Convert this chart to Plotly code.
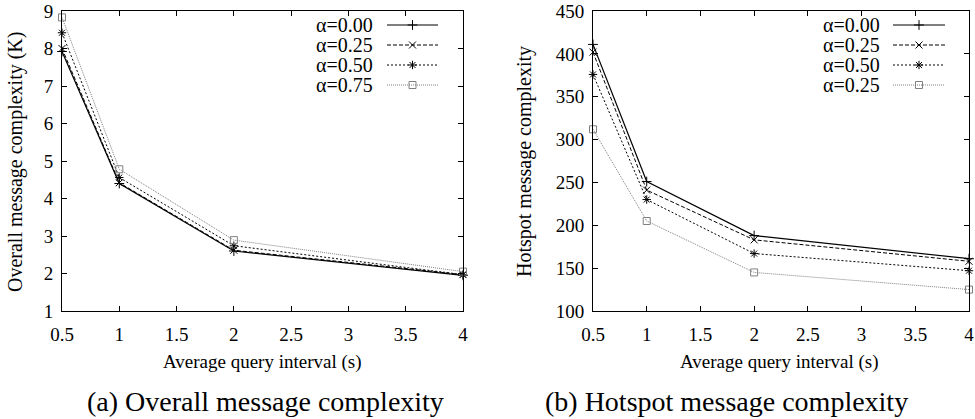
import plotly.graph_objects as go

x_vals = [0.5, 1, 2, 4]
labels_a = ["α=0.00", "α=0.25", "α=0.50", "α=0.75"]
labels_b = ["α=0.00", "α=0.25", "α=0.50", "α=0.25"]
overall = [
    [7.92, 4.40, 2.60, 1.95],
    [8.00, 4.42, 2.62, 1.97],
    [8.42, 4.56, 2.74, 1.97],
    [8.83, 4.78, 2.89, 2.05],
]
hotspot = [
    [411, 251, 188, 161],
    [402, 241, 183, 158],
    [376, 230, 167, 147],
    [312, 205, 145, 125],
]
x_ticks = [0.5, 1, 1.5, 2, 2.5, 3, 3.5, 4]
y_ticks_a = [1, 2, 3, 4, 5, 6, 7, 8, 9]
y_ticks_b = [100, 150, 200, 250, 300, 350, 400, 450]

styles = [
    dict(color="black", dash="solid", symbol="cross-thin-open", width=1.2),
    dict(color="black", dash="4px,2px", symbol="x-thin-open", width=1),
    dict(color="black", dash="2px,2px", symbol="asterisk-open", width=1),
    dict(color="#808080", dash="1px,1px", symbol="square-open", width=1),
]

FONT = "Liberation Serif"
fig = go.Figure()

W, H = 975, 419
dom_a = [62 / W, 463 / W]
dom_b = [593 / W, 969 / W]
dom_y = [1 - 311 / H, 1 - 11 / H]

for i, ys in enumerate(overall):
    s = styles[i]
    fig.add_trace(go.Scatter(x=x_vals, y=ys, mode="lines+markers", xaxis="x", yaxis="y",
                             line=dict(color=s["color"], dash=s["dash"], width=s["width"]),
                             marker=dict(symbol=s["symbol"], size=7, color=s["color"],
                                         line=dict(width=1, color=s["color"])),
                             showlegend=False, cliponaxis=False))
for i, ys in enumerate(hotspot):
    s = styles[i]
    fig.add_trace(go.Scatter(x=x_vals, y=ys, mode="lines+markers", xaxis="x2", yaxis="y2",
                             line=dict(color=s["color"], dash=s["dash"], width=s["width"]),
                             marker=dict(symbol=s["symbol"], size=7, color=s["color"],
                                         line=dict(width=1, color=s["color"])),
                             showlegend=False, cliponaxis=False))

# manual gnuplot-style legends (text left, sample right)
row_px = [25, 45, 65, 85]
annotations = []
for panel, (labels, xa, ya, dom) in enumerate([(labels_a, "x3", "y3", dom_a), (labels_b, "x4", "y4", dom_b)]):
    width_px = (dom[1] - dom[0]) * W
    if panel == 0:
        l0, l1, tx = 387 - 62, 438 - 62, 374 - 62
    else:
        l0, l1, tx = 893 - 593, 945 - 593, 881 - 593
    for i, lab in enumerate(labels):
        s = styles[i]
        yy = 1 - (row_px[i] - 11) / 300
        fig.add_trace(go.Scatter(x=[l0 / width_px, l1 / width_px],
                                 y=[yy, yy], mode="lines", xaxis=xa, yaxis=ya,
                                 line=dict(color=s["color"], dash=s["dash"], width=s["width"]),
                                 showlegend=False, hoverinfo="skip"))
        fig.add_trace(go.Scatter(x=[(l0 + l1) / 2 / width_px], y=[yy], mode="markers",
                                 xaxis=xa, yaxis=ya,
                                 marker=dict(symbol=s["symbol"], size=7, color=s["color"],
                                             line=dict(width=1, color=s["color"])),
                                 showlegend=False, hoverinfo="skip"))
        annotations.append(dict(x=tx / width_px, y=yy, xref=xa, yref=ya, text=lab,
                                showarrow=False, xanchor="right", yanchor="middle",
                                borderpad=0,
                                font=dict(family=FONT, size=20, color="black")))

# axis titles and captions
def note(x, y, text, size, angle=0):
    return dict(x=x / W, y=1 - y / H, xref="paper", yref="paper", text=text,
                showarrow=False, xanchor="center", yanchor="middle", textangle=angle,
                font=dict(family=FONT, size=size, color="black"))

annotations += [
    note(262, 362, "Average query interval (s)", 19),
    note(779, 362, "Average query interval (s)", 19),
    note(15, 162, "Overall message complexity (K)", 20, -90),
    note(524, 162, "Hotspot message complexity", 20, -90),
    note(265, 401, "(a) Overall message complexity", 28),
    note(726, 401, "(b) Hotspot message complexity", 28),
]

axis_common = dict(showgrid=False, zeroline=False, showline=True, linecolor="black",
                   linewidth=1, mirror="ticks", ticks="inside", ticklen=5, automargin=False,
                   tickcolor="black", tickfont=dict(family=FONT, size=19, color="black"))
hidden = dict(range=[0, 1], visible=False, automargin=False, showgrid=False, zeroline=False)

fig.update_layout(
    width=W, height=H, margin=dict(l=0, r=0, t=0, b=0, autoexpand=False),
    paper_bgcolor="white", plot_bgcolor="rgba(0,0,0,0)",
    xaxis=dict(domain=dom_a, range=[0.5, 4], tickvals=x_ticks,
               ticktext=[f"{v:g}" for v in x_ticks], anchor="y", ticklabelstandoff=6, **axis_common),
    yaxis=dict(domain=dom_y, range=[1, 9], tickvals=y_ticks_a, anchor="x", ticklabelstandoff=4, **axis_common),
    xaxis2=dict(domain=dom_b, range=[0.5, 4], tickvals=x_ticks,
                ticktext=[f"{v:g}" for v in x_ticks], anchor="y2", ticklabelstandoff=6, **axis_common),
    yaxis2=dict(domain=dom_y, range=[100, 450], tickvals=y_ticks_b, anchor="x2", ticklabelstandoff=4, **axis_common),
    xaxis3=dict(domain=dom_a, anchor="y3", overlaying="x", **hidden),
    yaxis3=dict(domain=dom_y, anchor="x3", overlaying="y", **hidden),
    xaxis4=dict(domain=dom_b, anchor="y4", overlaying="x2", **hidden),
    yaxis4=dict(domain=dom_y, anchor="x4", overlaying="y2", **hidden),
    annotations=annotations,
    hovermode=False,
)

fig.write_html("out.html", config={"displayModeBar": False},
               post_script="document.body.style.margin='0px';")
